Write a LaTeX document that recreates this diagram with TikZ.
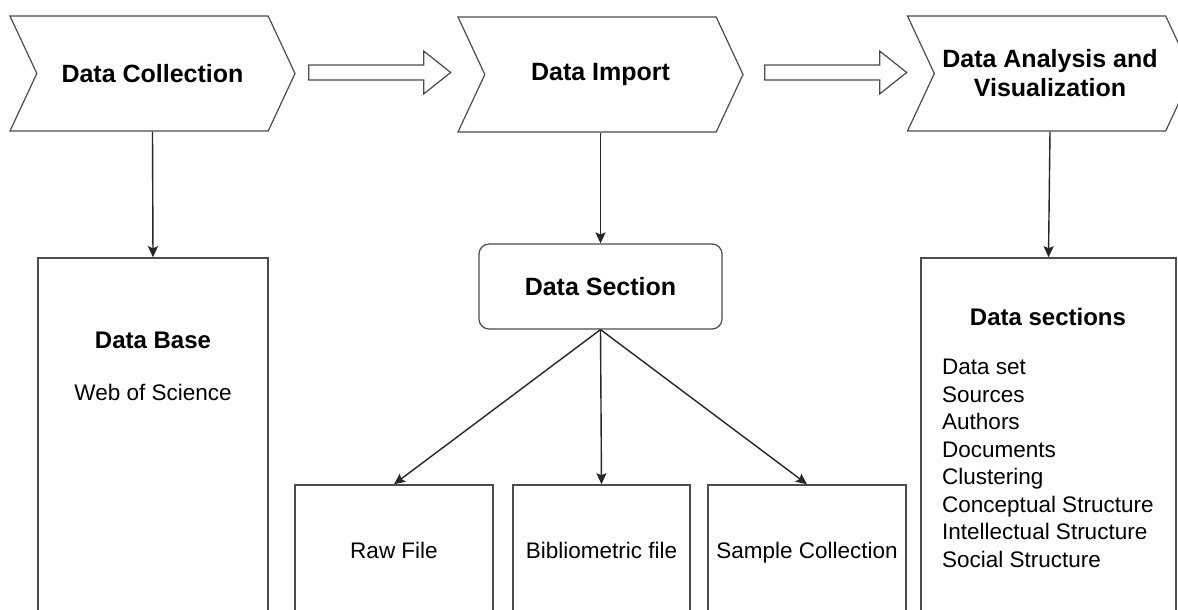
\documentclass[tikz,border=0pt]{standalone}
\usepackage{fontspec}
\setmainfont{Liberation Sans}
\usetikzlibrary{shapes.symbols, arrows.meta, positioning, calc}
\tikzset{
  % --- Chevron stages ----------------------------------------
  stage/.style={draw=black!70, line width=1.2pt, signal, signal to=east,
    signal from=west, signal pointer angle=130, minimum width=285pt,
    minimum height=115pt, inner sep=0pt, align=center,
    font=\fontsize{25}{29}\selectfont\bfseries},
  flowarr/.style={draw=black!70, line width=1.2pt, fill=white},
  % --- Boxes -------------------------------------------------
  panel/.style={draw=black!70, line width=1.5pt, fill=white, inner sep=0pt},
  secbox/.style={draw=black!70, line width=1.2pt, rounded corners=10pt,
    minimum width=243pt, minimum height=85pt, align=center,
    font=\fontsize{25}{29}\selectfont\bfseries},
  ttl/.style={font=\fontsize{24}{29}\selectfont\bfseries, inner sep=0pt},
  txt/.style={font=\fontsize{22.5}{27.5}\selectfont, inner sep=0pt, align=left},
  ftxt/.style={txt, text height=16pt, text depth=5pt},
  link/.style={-{Stealth[length=11pt, width=10pt, inset=2pt]}, line width=1.4pt, black!85}
}
\begin{document}
\begin{tikzpicture}[x=1pt, y=-1pt]
  \fill[white] (0,0) rectangle (1178,610);
  \useasboundingbox (0,0) rectangle (1178,610);

  % --- Stages across the top ---------------------------------------
  \node[stage] (DC) at (152.5,73.5) {Data Collection};
  \node[stage] (DI) at (600.5,74.5) {Data Import};
  \node[stage] (DA) at (1050,73.5) {Data Analysis and\\Visualization};

  % block arrows between the stages
  \coordinate (A1) at ($(DC.east)+(13,-1)$);
  \coordinate (A2) at ($(DI.east)+(21,-2)$);
  \foreach \a in {A1,A2}
    \draw[flowarr] (\a) ++(0,-7.5) -- ++(115,0) -- ++(0,-14) -- ++(27,21.5)
      -- ++(-27,21.5) -- ++(0,-14) -- ++(-115,0) -- cycle;

  % --- Data Base ---------------------------------------------------
  \node[panel, minimum width=230pt, minimum height=380pt] (DB) at (153,448) {};
  \node[ttl] (DBt) at (153,340) {Data Base};
  \node[txt] (DBs) at (153,392) {Web of Science};

  % --- Data Section and its files ---------------------------------
  \node[secbox] (DS) at (600.5,286.5) {Data Section};
  \node[panel, minimum width=198pt, minimum height=160pt] (RF) at (394,565) {};
  \node[panel, minimum width=177pt, minimum height=160pt] (BF) at (601.5,565) {};
  \node[panel, minimum width=198pt, minimum height=160pt] (SC) at (807,565) {};
  \node[ftxt] (RFt) at (394,553) {Raw File};
  \node[ftxt] (BFt) at (601.5,553) {Bibliometric file};
  \node[ftxt] (SCt) at (807,553) {Sample Collection};

  % --- Data sections -------------------------------------------------
  \node[panel, minimum width=255pt, minimum height=380pt] (DX) at (1048.5,448) {};
  \node[ttl] (DXt) at (1048,317) {Data sections};
  \node[txt, anchor=north west] (DXl) at (942,359) {Data set\\Sources\\Authors\\Documents\\Clustering\\Conceptual Structure\\Intellectual Structure\\Social Structure};

  % --- Connectors -------------------------------------------------
  \draw[link] (DC.south) -- (DB.north);
  \draw[link] (DI.south) -- (DS.north);
  \draw[link] (DA.south) -- (DX.north);
  \draw[link] (DS.south) -- (RF.north);
  \draw[link] (DS.south) -- (BF.north);
  \draw[link] (DS.south) -- (SC.north);

\end{tikzpicture}
\end{document}
